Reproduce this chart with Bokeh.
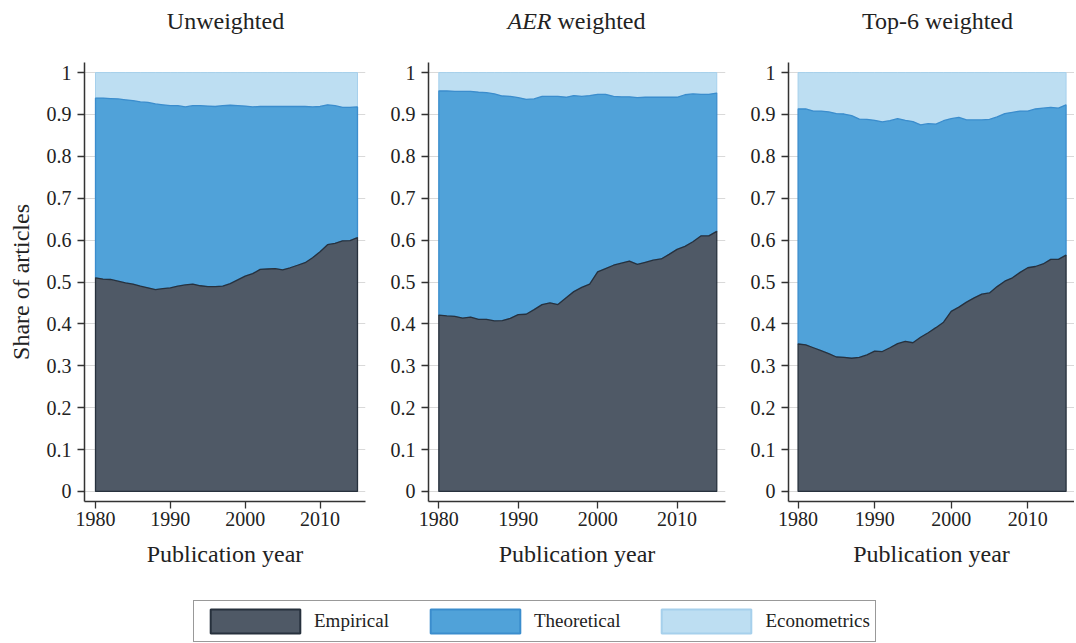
import numpy as np
from bokeh.plotting import figure
from bokeh.models import FixedTicker, Label, Legend, LegendItem, Range1d
from bokeh.layouts import row, column
from bokeh.embed import file_html
from bokeh.resources import INLINE

years = list(range(1980, 2016))

# Unweighted
unw_empirical = [0.510, 0.507, 0.506, 0.502, 0.498, 0.495, 0.490, 0.486, 0.482, 0.484,
                 0.486, 0.490, 0.493, 0.495, 0.491, 0.489, 0.489, 0.490, 0.496, 0.505,
                 0.514, 0.520, 0.530, 0.531, 0.532, 0.529, 0.534, 0.540, 0.546, 0.558,
                 0.572, 0.589, 0.592, 0.598, 0.599, 0.606]
unw_econometrics = [0.061, 0.061, 0.062, 0.063, 0.065, 0.067, 0.070, 0.071, 0.075, 0.077,
                    0.079, 0.079, 0.082, 0.079, 0.079, 0.080, 0.081, 0.079, 0.078, 0.079,
                    0.080, 0.082, 0.081, 0.081, 0.081, 0.081, 0.081, 0.081, 0.081, 0.082,
                    0.081, 0.077, 0.079, 0.083, 0.083, 0.082]

# AER weighted
aer_empirical = [0.421, 0.419, 0.418, 0.414, 0.416, 0.411, 0.411, 0.407, 0.408, 0.413,
                 0.422, 0.423, 0.434, 0.446, 0.450, 0.446, 0.462, 0.477, 0.487, 0.495,
                 0.524, 0.532, 0.540, 0.545, 0.550, 0.542, 0.547, 0.552, 0.555, 0.566,
                 0.578, 0.585, 0.596, 0.610, 0.610, 0.621]
aer_econometrics = [0.044, 0.044, 0.045, 0.045, 0.045, 0.047, 0.048, 0.051, 0.056, 0.057,
                    0.060, 0.064, 0.063, 0.057, 0.057, 0.057, 0.059, 0.055, 0.057, 0.055,
                    0.052, 0.052, 0.057, 0.058, 0.058, 0.060, 0.059, 0.059, 0.059, 0.059,
                    0.059, 0.053, 0.051, 0.052, 0.052, 0.049]

# Top-6 weighted
top6_empirical = [0.352, 0.350, 0.343, 0.336, 0.329, 0.321, 0.320, 0.318, 0.320, 0.326,
                  0.335, 0.334, 0.343, 0.353, 0.358, 0.355, 0.368, 0.379, 0.391, 0.404,
                  0.430, 0.440, 0.452, 0.462, 0.471, 0.474, 0.489, 0.502, 0.510, 0.523,
                  0.534, 0.537, 0.543, 0.554, 0.554, 0.564]
top6_econometrics = [0.087, 0.087, 0.092, 0.092, 0.094, 0.098, 0.099, 0.103, 0.111, 0.112,
                     0.114, 0.118, 0.115, 0.110, 0.114, 0.117, 0.125, 0.122, 0.123, 0.115,
                     0.110, 0.107, 0.113, 0.113, 0.113, 0.112, 0.106, 0.098, 0.095, 0.092,
                     0.092, 0.087, 0.085, 0.083, 0.085, 0.077]

y_ticks = [0, 0.1, 0.2, 0.3, 0.4, 0.5, 0.6, 0.7, 0.8, 0.9, 1]
x_ticks = [1980, 1990, 2000, 2010]
series_names = ["Empirical", "Theoretical", "Econometrics"]
panel_titles = ["Unweighted", "AER", "weighted", "Top-6 weighted"]

FONT = "Liberation Serif"
TXT = "#222222"
EMP_FILL, EMP_LINE = "#4f5966", "#27313d"
THE_FILL, THE_LINE = "#50a2d9", "#3b8dcd"
ECO_FILL, ECO_LINE = "#bddef2", "#a6d0ec"


def stack_bounds(emp_list, eco_list):
    emp = np.array(emp_list)
    eco = np.array(eco_list)
    the = 1.0 - emp - eco
    yrs = np.array(years, dtype=float)
    xs = np.concatenate([yrs, yrs[::-1]])
    ys_e = np.concatenate([emp, np.zeros_like(emp)[::-1]])
    ys_t = np.concatenate([emp + the, emp[::-1]])
    ys_c = np.concatenate([emp + the + eco, (emp + the)[::-1]])
    return xs, ys_e, ys_t, ys_c


def make_panel(width, border_left, border_right, xr, emp_list, eco_list, ylabel=None):
    p = figure(width=width, height=546, x_range=Range1d(*xr),
               y_range=Range1d(-0.024, 1.024), output_backend="svg",
               toolbar_location=None, min_border_left=border_left,
               min_border_right=border_right, min_border_top=18, min_border_bottom=89)
    p.outline_line_color = None
    p.background_fill_color = "white"
    p.xgrid.visible = False
    p.ygrid.grid_line_color = "#d9d9d9"
    p.ygrid.grid_line_width = 1
    p.yaxis.ticker = FixedTicker(ticks=y_ticks)
    p.xaxis.ticker = FixedTicker(ticks=x_ticks)
    p.yaxis.major_label_overrides = {0: "0", 1: "1"}
    for ax in (p.xaxis[0], p.yaxis[0]):
        ax.axis_line_color = "#333333"
        ax.axis_line_width = 1.5
        ax.major_tick_line_color = "#333333"
        ax.major_tick_line_width = 1.3
        ax.major_tick_in = 0
        ax.major_tick_out = 7
        ax.minor_tick_line_color = None
        ax.major_label_text_font = FONT
        ax.major_label_text_font_size = "20px"
        ax.major_label_text_color = TXT
        ax.axis_label_text_font = FONT
        ax.axis_label_text_font_size = "24px"
        ax.axis_label_text_font_style = "normal"
        ax.axis_label_text_color = TXT
    p.xaxis.major_label_standoff = 3
    p.yaxis.major_label_standoff = 6
    p.xaxis.axis_label = "Publication year"
    p.xaxis.axis_label_standoff = 12
    if ylabel:
        p.yaxis.axis_label = ylabel
        p.yaxis.axis_label_standoff = 10

    xs, ys_e, ys_t, ys_c = stack_bounds(emp_list, eco_list)
    p.patch(xs, ys_c, fill_color=ECO_FILL, line_color=ECO_LINE, line_width=1)
    p.patch(xs, ys_t, fill_color=THE_FILL, line_color=THE_LINE, line_width=1.3)
    p.patch(xs, ys_e, fill_color=EMP_FILL, line_color=EMP_LINE, line_width=1.3)
    return p


p1 = make_panel(375, 84, 10, (1978.53, 2016.07), unw_empirical, unw_econometrics,
                ylabel="Share of articles")
p2 = make_panel(360, 53, 10, (1978.70, 2016.1), aer_empirical, aer_econometrics)
p3 = make_panel(339, 53, 0, (1978.75, 2016.1), top6_empirical, top6_econometrics)

# Header with panel titles
hf = figure(width=1074, height=44, toolbar_location=None, output_backend="svg",
            min_border=0, x_axis_type=None, y_axis_type=None,
            x_range=Range1d(0, 1), y_range=Range1d(0, 1))
hf.outline_line_color = None
hf.grid.visible = False
for text, style, xo, align in [(panel_titles[0], "normal", 225, "center"),
                               (panel_titles[1], "italic", 551, "right"),
                               (panel_titles[2], "normal", 557, "left"),
                               (panel_titles[3], "normal", 937, "center")]:
    hf.add_layout(Label(x=xo, y=24, x_units="screen", y_units="screen",
                        text=text, text_font=FONT, text_font_size="24px",
                        text_font_style=style, text_color=TXT,
                        text_align=align, text_baseline="middle"))

# Legend strip
lf = figure(width=1074, height=53, toolbar_location=None, output_backend="svg",
            min_border=0, x_axis_type=None, y_axis_type=None,
            x_range=Range1d(0, 1), y_range=Range1d(0, 1))
lf.outline_line_color = None
lf.grid.visible = False
xs, ys_e, ys_t, ys_c = stack_bounds(unw_empirical, unw_econometrics)
r_emp = lf.patch(xs, ys_e, fill_color=EMP_FILL, line_color=EMP_LINE, line_width=2)
r_the = lf.patch(xs, ys_t, fill_color=THE_FILL, line_color=THE_LINE, line_width=2)
r_eco = lf.patch(xs, ys_c, fill_color=ECO_FILL, line_color=ECO_LINE, line_width=2)
legend = Legend(items=[LegendItem(label=series_names[0], renderers=[r_emp]),
                       LegendItem(label=series_names[1], renderers=[r_the]),
                       LegendItem(label=series_names[2], renderers=[r_eco])],
                orientation="horizontal", location=(193, 1),
                glyph_width=112, glyph_height=30, label_standoff=3, spacing=30,
                padding=5, margin=0, border_line_color="#333333", border_line_width=1,
                background_fill_color="white", label_text_font=FONT,
                label_text_font_size="19px", label_text_color=TXT)
lf.add_layout(legend, "center")

layout = column(hf, row(p1, p2, p3), lf)
open("out.html", "w").write(file_html(layout, INLINE))
